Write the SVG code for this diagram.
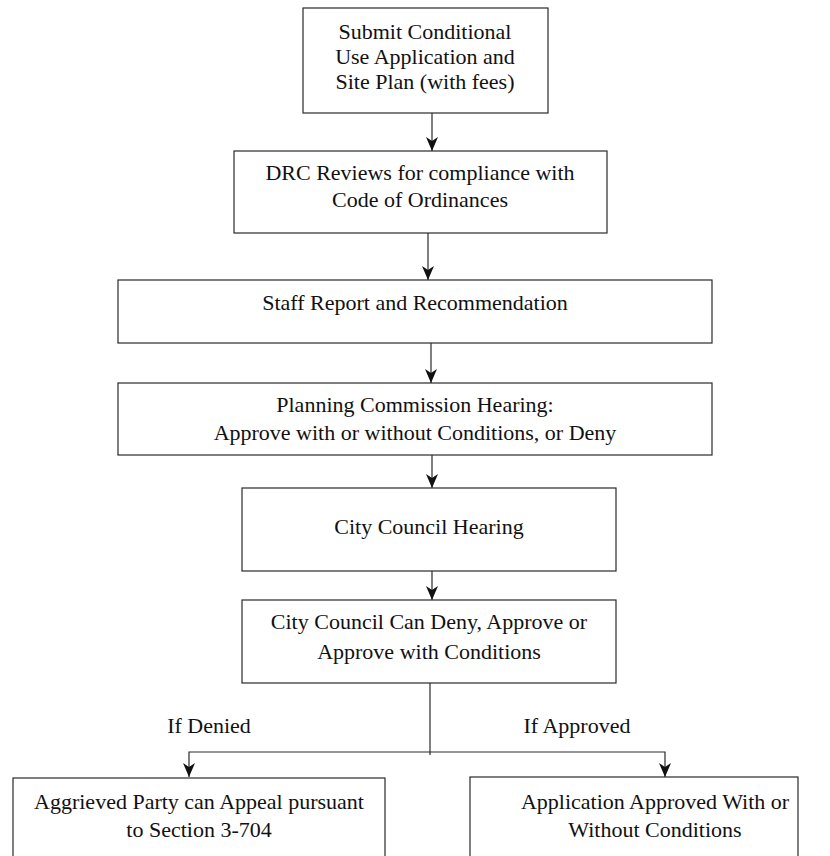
<svg xmlns="http://www.w3.org/2000/svg" width="830" height="856" viewBox="0 0 830 856">
  <style>
    .box { fill: #ffffff; stroke: #2a2a2a; stroke-width: 1.2; }
    .lbl { font-family: "Liberation Serif", "Times New Roman", serif; font-size: 22px; fill: #111111; text-anchor: middle; }
    .wire { fill: none; stroke: #2a2a2a; stroke-width: 1.2; }
  </style>
  <defs>
    <!-- filled arrowhead with a notched back, tip at the line end -->
    <marker id="head" viewBox="0 0 14 12" refX="14" refY="6" markerWidth="14" markerHeight="12" markerUnits="userSpaceOnUse" orient="auto">
      <path d="M0,0 L14,6 L0,12 L4,6 Z" fill="#111111"/>
    </marker>
  </defs>
  <rect width="830" height="856" fill="#ffffff"/>

  <g id="connectors">
    <line class="wire" x1="432" y1="113" x2="432" y2="151" marker-end="url(#head)"/>
    <line class="wire" x1="428" y1="233" x2="428" y2="280" marker-end="url(#head)"/>
    <line class="wire" x1="431" y1="343" x2="431" y2="383" marker-end="url(#head)"/>
    <line class="wire" x1="432" y1="455" x2="432" y2="488" marker-end="url(#head)"/>
    <line class="wire" x1="432" y1="571" x2="432" y2="600" marker-end="url(#head)"/>
    <line class="wire" x1="430" y1="683" x2="430" y2="755"/>
    <path class="wire" d="M430,752 H189 V777" marker-end="url(#head)"/>
    <path class="wire" d="M430,752 H665 V777" marker-end="url(#head)"/>
  </g>

  <g id="submit">
    <rect class="box" x="303" y="8" width="245" height="105"/>
    <text class="lbl" x="425" y="39">Submit Conditional</text>
    <text class="lbl" x="425" y="64">Use Application and</text>
    <text class="lbl" x="425" y="89">Site Plan (with fees)</text>
  </g>

  <g id="drc-review">
    <rect class="box" x="234" y="151" width="373" height="82"/>
    <text class="lbl" x="420" y="180">DRC Reviews for compliance with</text>
    <text class="lbl" x="420" y="207">Code of Ordinances</text>
  </g>

  <g id="staff-report">
    <rect class="box" x="118" y="280" width="594" height="63"/>
    <text class="lbl" x="415" y="310">Staff Report and Recommendation</text>
  </g>

  <g id="planning-commission">
    <rect class="box" x="118" y="383" width="594" height="72"/>
    <text class="lbl" x="415" y="412">Planning Commission Hearing:</text>
    <text class="lbl" x="415" y="440">Approve with or without Conditions, or Deny</text>
  </g>

  <g id="council-hearing">
    <rect class="box" x="242" y="488" width="374" height="83"/>
    <text class="lbl" x="429" y="534">City Council Hearing</text>
  </g>

  <g id="council-decision">
    <rect class="box" x="242" y="600" width="374" height="83"/>
    <text class="lbl" x="429" y="629">City Council Can Deny, Approve or</text>
    <text class="lbl" x="429" y="659">Approve with Conditions</text>
  </g>

  <g id="branch-labels">
    <text class="lbl" x="209" y="733">If Denied</text>
    <text class="lbl" x="577" y="733">If Approved</text>
  </g>

  <g id="appeal">
    <rect class="box" x="13" y="778" width="372" height="100"/>
    <text class="lbl" x="199" y="809">Aggrieved Party can Appeal pursuant</text>
    <text class="lbl" x="199" y="837">to Section 3-704</text>
  </g>

  <g id="approved">
    <rect class="box" x="470" y="777" width="328" height="100"/>
    <text class="lbl" x="655" y="809">Application Approved With or</text>
    <text class="lbl" x="655" y="837">Without Conditions</text>
  </g>
</svg>
